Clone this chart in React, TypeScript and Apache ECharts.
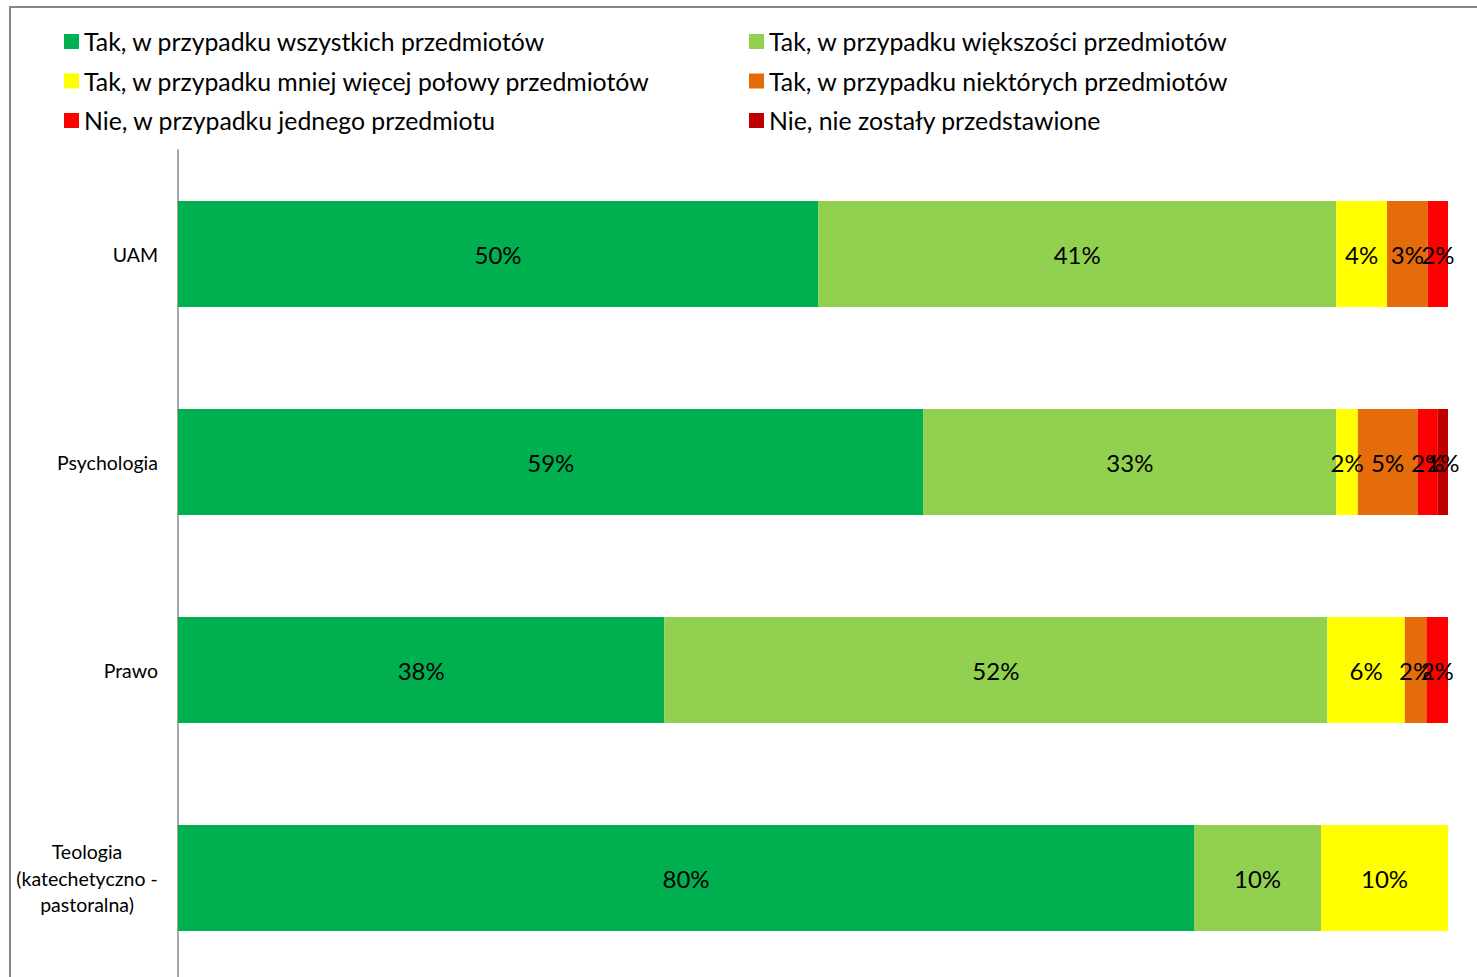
import React, { useEffect, useRef } from "react";
import * as echarts from "echarts";

const categories = ["UAM", "Psychologia", "Prawo", "Teologia\n(katechetyczno -\npastoralna)"];
const seriesNames = [
  "Tak, w przypadku wszystkich przedmiotów",
  "Tak, w przypadku większości przedmiotów",
  "Tak, w przypadku mniej więcej połowy przedmiotów",
  "Tak, w przypadku niektórych przedmiotów",
  "Nie, w przypadku jednego przedmiotu",
  "Nie, nie zostały przedstawione",
];
const colors = ["#00B050", "#92D050", "#FFFF00", "#E46C0A", "#FF0000", "#C00000"];
const allSubjects = [50.4, 58.7, 38.3, 80.0];
const mostSubjects = [40.8, 32.5, 52.2, 10.0];
const halfSubjects = [4.0, 1.7, 6.1, 10.0];
const someSubjects = [3.2, 4.7, 1.7, 0];
const oneSubject = [1.6, 1.6, 1.7, 0];
const notPresented = [0, 0.8, 0, 0];
const seriesValues = [allSubjects, mostSubjects, halfSubjects, someSubjects, oneSubject, notPresented];

const FONT = "Lato";

export default function App() {
  const ref = useRef<HTMLDivElement>(null);
  useEffect(() => {
    if (!ref.current) return;
    const chart = echarts.init(ref.current, null, { renderer: "svg" });
    const legendCommon = {
      orient: "vertical" as const,
      itemWidth: 15,
      itemHeight: 15,
      itemGap: 15.5,
      icon: "rect",
      textStyle: { fontFamily: FONT, fontSize: 24.8, lineHeight: 24, color: "#000" },
      selectedMode: false,
    };
    chart.setOption({
      animation: false,
      color: colors,
      graphic: [
        {
          type: "rect",
          shape: { x: 10, y: 7, width: 1500, height: 1050 },
          style: { fill: "none", stroke: "#878787", lineWidth: 2 },
          silent: true,
        },
      ],
      legend: [
        { ...legendCommon, left: 59, top: 24, itemGap: 14.5, data: [seriesNames[0], seriesNames[2], seriesNames[4]] },
        { ...legendCommon, left: 744, top: 24, itemGap: 14.5, data: [seriesNames[1], seriesNames[3], seriesNames[5]] },
      ],
      grid: { left: 178, top: 150, width: 1270, height: 832, containLabel: false },
      xAxis: {
        type: "value",
        min: 0,
        max: 100,
        show: false,
      },
      yAxis: {
        type: "category",
        data: categories,
        inverse: true,
        axisLine: { show: true, lineStyle: { color: "#878787", width: 1.5 } },
        axisTick: { show: false },
        axisLabel: {
          margin: 20,
          fontFamily: FONT,
          fontSize: 19.5,
          color: "#000",
          lineHeight: 26.5,
          align: "right",
          formatter: (v: string) =>
            v.indexOf("\n") >= 0
              ? v
                  .split("\n")
                  .map((line) => "{c|" + line + "}")
                  .join("\n")
              : v,
          rich: {
            c: { width: 142, align: "center", fontFamily: FONT, fontSize: 19.5, lineHeight: 26.5, color: "#000" },
          },
        },
      },
      series: seriesNames.map((name, i) => ({
        name,
        type: "bar",
        stack: "total",
        barWidth: 106,
        data: seriesValues[i].map((v) => (v > 0 ? v : null)),
        label: {
          show: true,
          position: "inside",
          fontFamily: FONT,
          fontSize: 24,
          color: "#000",
          formatter: (p: any) => (p.value == null ? "" : Math.round(p.value) + "%"),
        },
      })),
    });
    return () => chart.dispose();
  }, []);
  return (
    <div
      ref={ref}
      style={{ position: "absolute", left: 0, top: 0, width: 1477, height: 1000, background: "#fff" }}
    />
  );
}
